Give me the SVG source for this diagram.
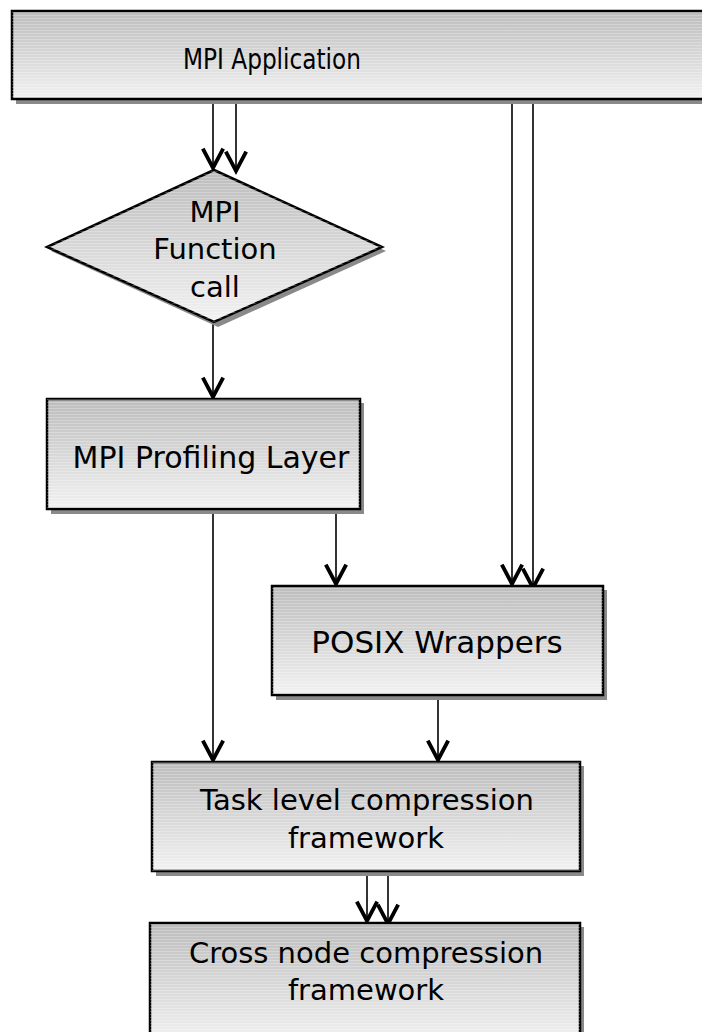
<svg xmlns="http://www.w3.org/2000/svg" width="702" height="1032" viewBox="0 0 702 1032">
<style>
  .box { stroke: #000; stroke-width: 2.5; fill: url(#g); }
  .shadow { fill: #8a8a8a; }
  .tx { font-family: "DejaVu Sans", sans-serif; font-size: 29px; fill: #000; text-anchor: middle; }
  .con { stroke: #000; stroke-width: 1.6; fill: none; marker-end: url(#v); }
</style>
<defs>
  <linearGradient id="g" x1="0" y1="0" x2="0" y2="1">
    <stop offset="0" stop-color="#bcbcbc"/>
    <stop offset="1" stop-color="#f2f2f2"/>
  </linearGradient>
  <pattern id="streak" width="8" height="3" patternUnits="userSpaceOnUse">
    <rect width="8" height="1" fill="#ffffff" opacity="0.25"/>
  </pattern>
  <marker id="v" markerUnits="userSpaceOnUse" markerWidth="30" markerHeight="30" viewBox="-22 -14 26 28" refX="0" refY="0" orient="auto" overflow="visible">
    <path d="M-19,-9.5 L-1,0 L-19,9.5" fill="none" stroke="#000" stroke-width="3.6" stroke-linejoin="miter"/>
  </marker>
</defs>
<rect width="702" height="1032" fill="#fff"/>

<g id="connectors">
  <line class="con" x1="213" y1="99" x2="213" y2="169"/>
  <line class="con" x1="236" y1="103" x2="236" y2="172"/>
  <line class="con" x1="512" y1="99" x2="512" y2="585"/>
  <line class="con" x1="533" y1="103" x2="533" y2="589"/>
  <line class="con" x1="213" y1="322" x2="213" y2="398"/>
  <line class="con" x1="213" y1="509" x2="213" y2="761"/>
  <line class="con" x1="336" y1="507" x2="336" y2="585"/>
  <line class="con" x1="438" y1="695" x2="438" y2="761"/>
  <line class="con" x1="367" y1="871" x2="367" y2="922"/>
  <line class="con" x1="388" y1="875" x2="388" y2="925"/>
</g>

<g id="mpi-application">
  <rect class="shadow" x="16" y="15" width="700" height="89"/>
  <rect class="box" x="12" y="11" width="700" height="88"/>
  <rect x="12" y="11" width="700" height="88" fill="url(#streak)"/>
  <text class="tx" x="272" y="69" style="font-size:28px" textLength="178" lengthAdjust="spacingAndGlyphs">MPI Application</text>
</g>

<g id="mpi-function-call">
  <polygon class="shadow" points="218,174 386,251 218,327 51,251"/>
  <polygon class="box" points="214,170 382,247 214,322 47,247"/>
  <polygon points="214,170 382,247 214,322 47,247" fill="url(#streak)"/>
  <text class="tx" x="215" y="222">MPI</text>
  <text class="tx" x="215" y="259">Function</text>
  <text class="tx" x="215" y="297">call</text>
</g>

<g id="mpi-profiling-layer">
  <rect class="shadow" x="51" y="403" width="313" height="111"/>
  <rect class="box" x="47" y="399" width="313" height="110"/>
  <rect x="47" y="399" width="313" height="110" fill="url(#streak)"/>
  <text class="tx" x="211" y="468" style="font-size:30px">MPI Profiling Layer</text>
</g>

<g id="posix-wrappers">
  <rect class="shadow" x="276" y="590" width="331" height="110"/>
  <rect class="box" x="272" y="586" width="331" height="109"/>
  <rect x="272" y="586" width="331" height="109" fill="url(#streak)"/>
  <text class="tx" x="437" y="653" style="font-size:31px">POSIX Wrappers</text>
</g>

<g id="task-level">
  <rect class="shadow" x="156" y="766" width="428" height="110"/>
  <rect class="box" x="152" y="762" width="428" height="109"/>
  <rect x="152" y="762" width="428" height="109" fill="url(#streak)"/>
  <text class="tx" x="367" y="810">Task level compression</text>
  <text class="tx" x="366" y="848">framework</text>
</g>

<g id="cross-node">
  <rect class="shadow" x="154" y="927" width="430" height="120"/>
  <rect class="box" x="150" y="923" width="430" height="120"/>
  <rect x="150" y="923" width="430" height="120" fill="url(#streak)"/>
  <text class="tx" x="366" y="963">Cross node compression</text>
  <text class="tx" x="366" y="1000">framework</text>
</g>
</svg>
